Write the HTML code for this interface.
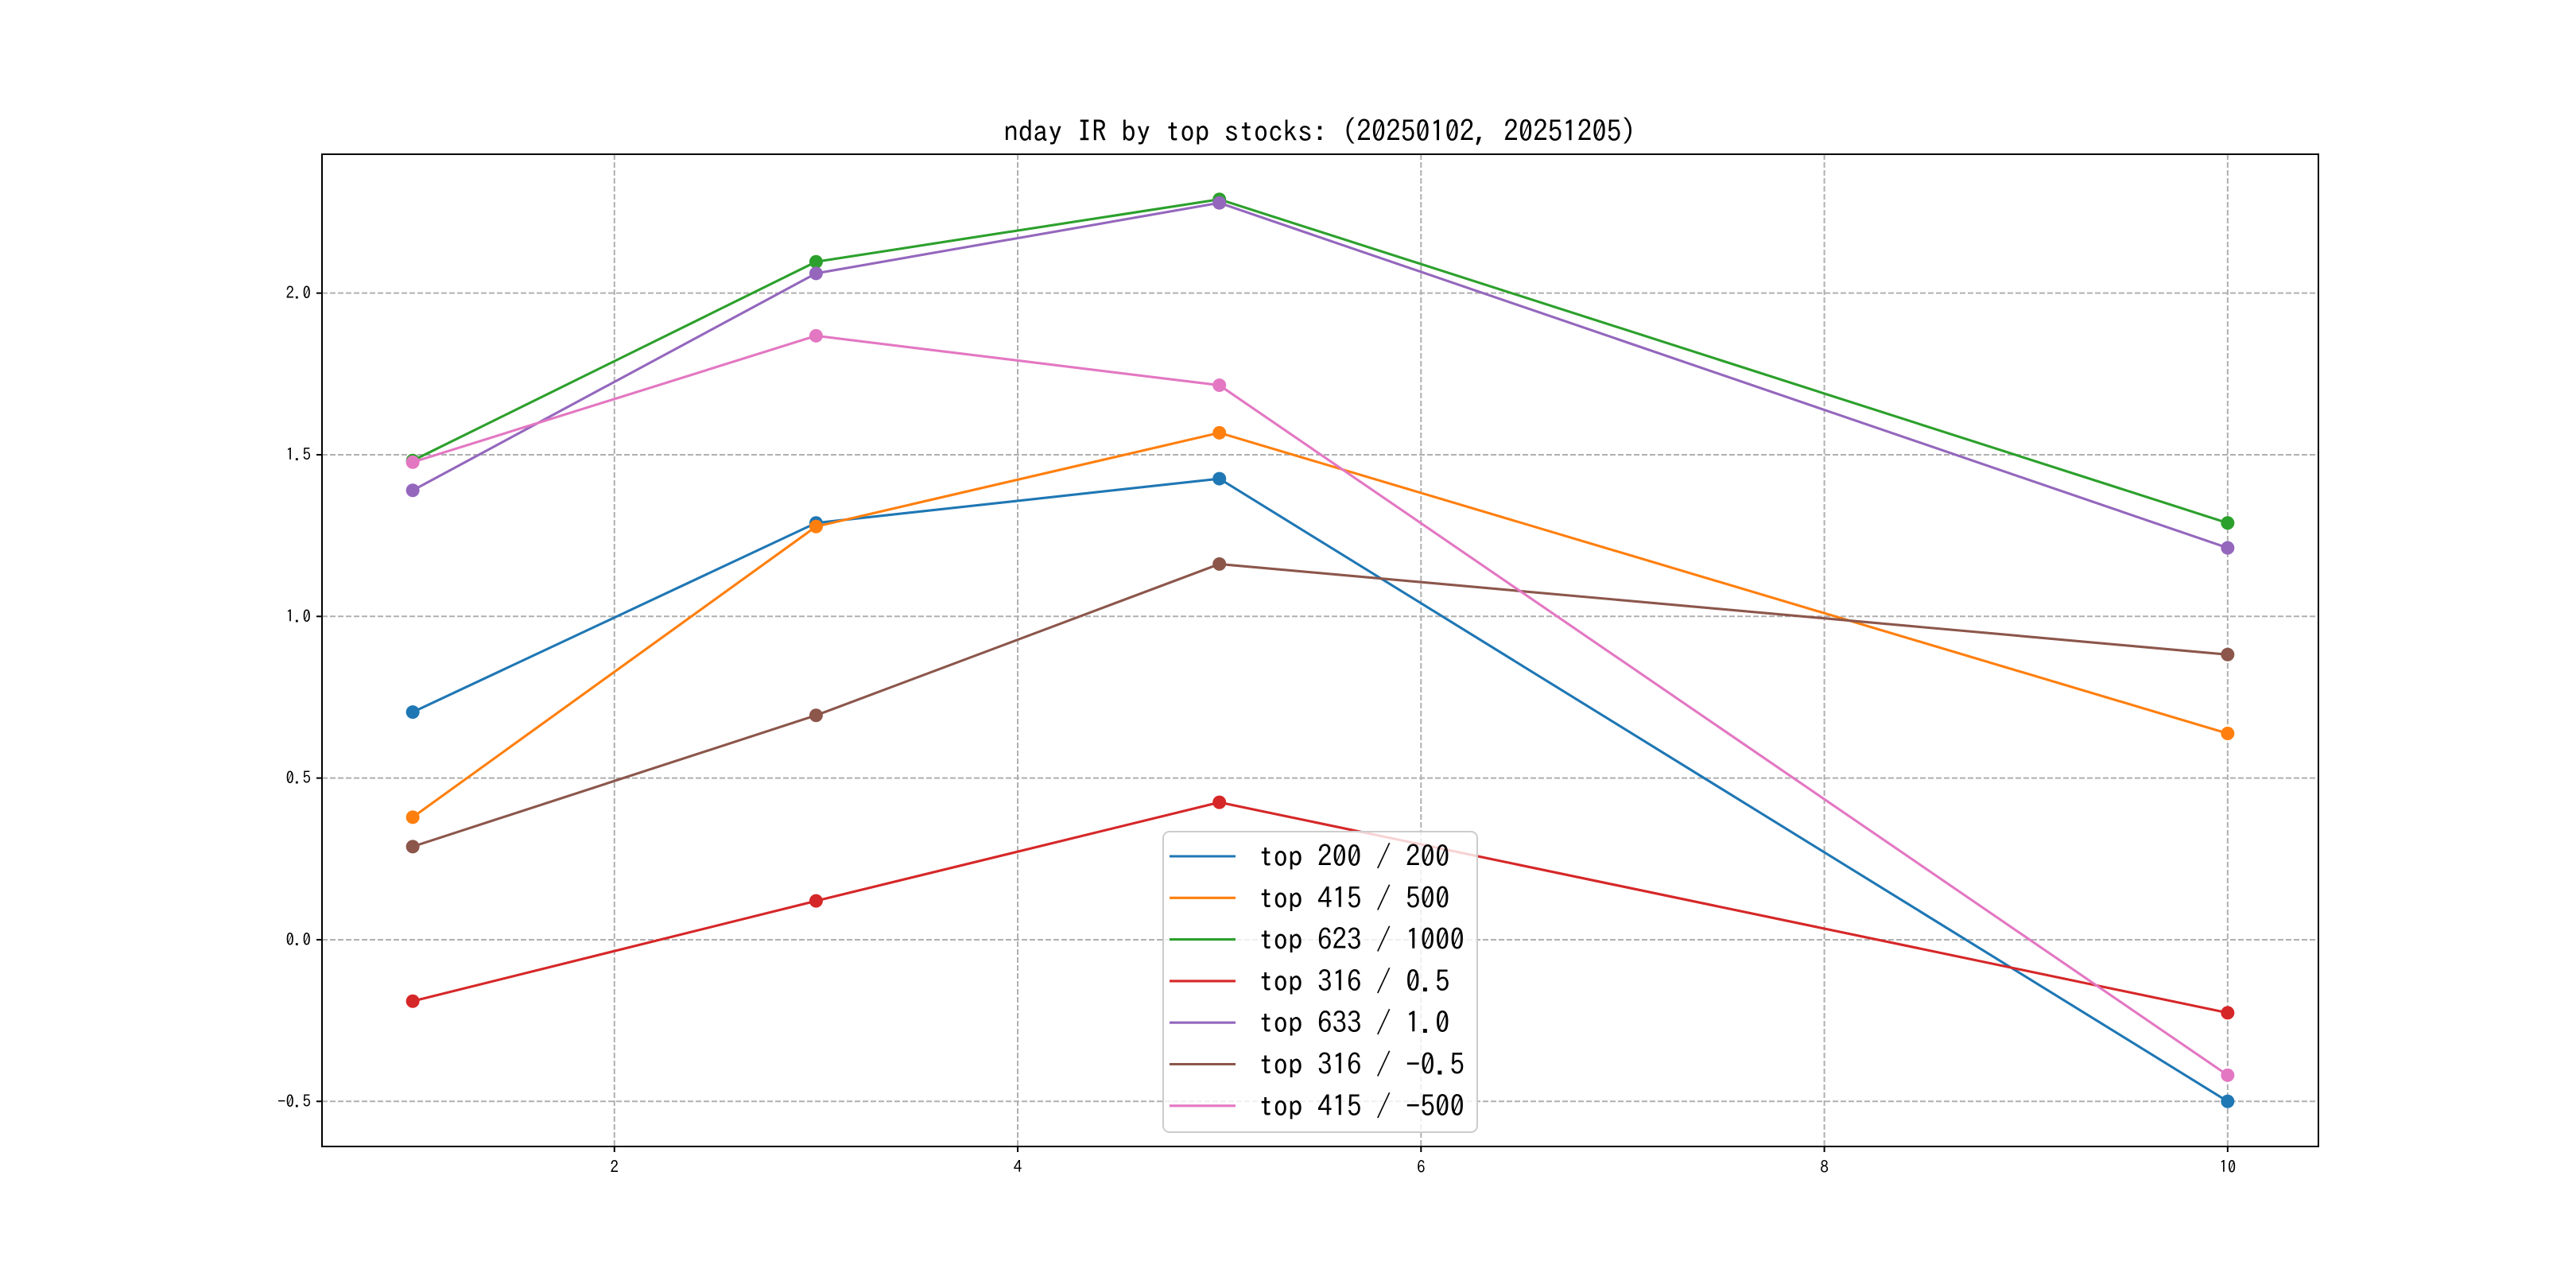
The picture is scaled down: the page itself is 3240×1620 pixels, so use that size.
<!DOCTYPE html>
<html><head><meta charset="utf-8">
<style>
html,body{margin:0;padding:0;background:#fff;}
svg{display:block;font-family:"IPAGothic","WenQuanYi Zen Hei",monospace;}
</style></head>
<body>
<svg id="chart" width="3240" height="1620" viewBox="0 0 3240 1620" xmlns="http://www.w3.org/2000/svg">
<rect width="3240" height="1620" fill="#fff"/>
<text x="1660" y="178" font-size="37" text-anchor="middle" fill="#000">nday IR by top stocks: (20250102, 20251205)</text>
<g id="grid"></g>
<g id="series"></g>
<rect x="405" y="194" width="2511" height="1248" fill="none" stroke="#000" stroke-width="2"/>
<g id="ticks"></g>
<g id="legend"></g>
</svg>
<script>
const xCats = [1, 3, 5, 10];
const seriesNames = ["top 200 / 200","top 415 / 500","top 623 / 1000","top 316 / 0.5","top 633 / 1.0","top 316 / -0.5","top 415 / -500"];
const seriesColors = ["#1f77b4","#ff7f0e","#2ca02c","#d62728","#9467bd","#8c564b","#e377c2"];
const s1 = [0.704, 1.289, 1.426, -0.5];
const s2 = [0.379, 1.278, 1.568, 0.638];
const s3 = [1.482, 2.097, 2.290, 1.289];
const s4 = [-0.190, 0.120, 0.425, -0.226];
const s5 = [1.390, 2.061, 2.279, 1.212];
const s6 = [0.288, 0.694, 1.162, 0.882];
const s7 = [1.477, 1.868, 1.715, -0.419];
const xTicks = [2, 4, 6, 8, 10];
const yTicks = [-0.5, 0.0, 0.5, 1.0, 1.5, 2.0];
const yTickLabels = ["−0.5","0.0","0.5","1.0","1.5","2.0"];

const NS = "http://www.w3.org/2000/svg";
const L=405,R=2916,T=194,B=1442;
const allY=[s1,s2,s3,s4,s5,s6,s7];
let ymin=Math.min(...allY.flat()), ymax=Math.max(...allY.flat());
let xmin=Math.min(...xCats), xmax=Math.max(...xCats);
const yr=ymax-ymin, xrg=xmax-xmin;
const y0=ymin-0.05*yr, y1=ymax+0.05*yr, x0=xmin-0.05*xrg, x1=xmax+0.05*xrg;
const sx=v=>L+(v-x0)/(x1-x0)*(R-L);
const sy=v=>B-(v-y0)/(y1-y0)*(B-T);
function mk(tag,attrs,parent){const e=document.createElementNS(NS,tag);for(const k in attrs)e.setAttribute(k,attrs[k]);parent.appendChild(e);return e;}
const grid=document.getElementById('grid'), ticks=document.getElementById('ticks'), ser=document.getElementById('series'), leg=document.getElementById('legend');
xTicks.forEach(t=>{
  const g=mk('line',{x1:sx(t),x2:sx(t),y1:T,y2:B,stroke:'#b0b0b0','stroke-width':2,'stroke-dasharray':'7,3'},grid);
  
  
  mk('line',{x1:sx(t),x2:sx(t),y1:B,y2:B+7,stroke:'#000','stroke-width':2},ticks);
  const tx=mk('text',{x:sx(t),y:B+33,'font-size':21,'text-anchor':'middle',fill:'#000'},ticks);
  tx.textContent=t;
  
  
});
yTicks.forEach((t,i)=>{
  const g=mk('line',{x1:L,x2:R,y1:sy(t),y2:sy(t),stroke:'#b0b0b0','stroke-width':2,'stroke-dasharray':'7,3'},grid);
  
  
  mk('line',{x1:L-7,x2:L,y1:sy(t),y2:sy(t),stroke:'#000','stroke-width':2},ticks);
  const tx=mk('text',{x:L-14,y:sy(t)+7,'font-size':21,'text-anchor':'end',fill:'#000'},ticks);
  tx.textContent=yTickLabels[i];
  
  
});
allY.forEach((s,i)=>{
  const c=seriesColors[i];
  const pl=mk('polyline',{points:s.map((v,j)=>sx(xCats[j])+','+sy(v)).join(' '),fill:'none',stroke:c,'stroke-width':3.1},ser);
  
  
  s.forEach((v,j)=>{
    const p=mk('circle',{cx:sx(xCats[j]),cy:sy(v),r:8.5,fill:c},ser);
    
    
  });
});
const box=mk('rect',{x:1463,y:1046,width:395,height:378,rx:8,fill:'#fff','fill-opacity':0.8,stroke:'#ccc','stroke-width':2},leg);


seriesNames.forEach((n,i)=>{
  const y=1077+i*52.3;
  mk('line',{x1:1471,x2:1554,y1:y,y2:y,stroke:seriesColors[i],'stroke-width':3.1},leg);
  const tx=mk('text',{x:1583,y:y+13,'font-size':37,fill:'#000'},leg);
  tx.textContent=n;
  
  
});
</script>
</body></html>
